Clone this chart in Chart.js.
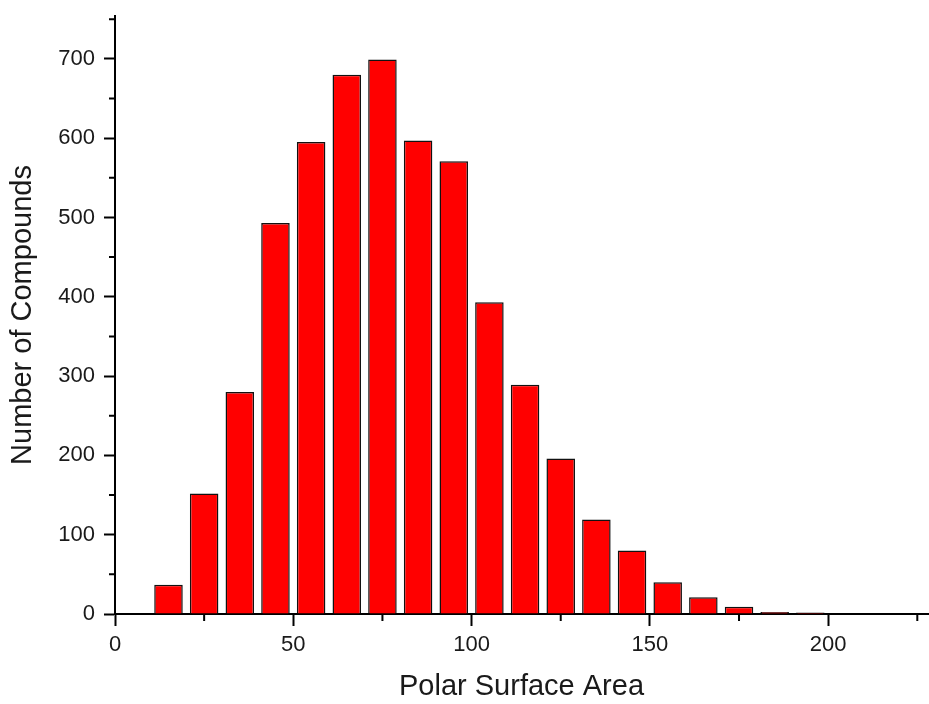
<!DOCTYPE html>
<html>
<head>
<meta charset="utf-8">
<script src="https://cdn.jsdelivr.net/npm/chart.js@4"></script>
<style>
  html, body { margin: 0; padding: 0; background: #fff; }
  #wrap { width: 929px; height: 704px; }
</style>
</head>
<body>
<div id="wrap"><canvas id="chart" width="929" height="704"></canvas></div>
<script>
// Histogram bins (bin centres) and counts
const binCentres = [15, 25, 35, 45, 55, 65, 75, 85, 95, 105, 115, 125, 135, 145, 155, 165, 175, 185, 195];
const counts = [37, 152, 280, 493, 595, 680, 699, 597, 571, 393, 289, 196, 119, 80, 40, 21, 9, 2.5, 2];

const xMinorTicks = [25, 75, 125, 175, 225];
const yMinorTicks = [50, 150, 250, 350, 450, 550, 650, 750];

const textColor = '#1a1a1a';
const fontFamily = '"Liberation Sans", Arial, sans-serif';

// Draw short minor ticks outside the axes
const minorTicks = {
    id: 'minorTicks',
    afterDraw(chart) {
        const ctx = chart.ctx;
        const x = chart.scales.x, y = chart.scales.y;
        ctx.save();
        ctx.strokeStyle = '#000';
        ctx.lineWidth = 2;
        ctx.beginPath();
        xMinorTicks.forEach(v => {
            const px = x.getPixelForValue(v);
            ctx.moveTo(px, y.bottom);
            ctx.lineTo(px, y.bottom + 7);
        });
        yMinorTicks.forEach(v => {
            const py = y.getPixelForValue(v);
            ctx.moveTo(x.left, py);
            ctx.lineTo(x.left - 6, py);
        });
        ctx.stroke();
        ctx.restore();
    }
};

new Chart(document.getElementById('chart').getContext('2d'), {
    type: 'bar',
    data: {
        datasets: [{
            data: binCentres.map((b, i) => ({ x: b, y: counts[i] })),
            backgroundColor: '#ff0000',
            borderColor: '#111',
            borderWidth: 1.5,
            barPercentage: 0.8,
            categoryPercentage: 1.0
        }]
    },
    options: {
        responsive: false,
        animation: false,
        events: [],
        layout: { padding: { top: 16, right: 1, left: 0, bottom: 0 } },
        plugins: { legend: { display: false }, tooltip: { enabled: false } },
        scales: {
            x: {
                type: 'linear',
                min: 0,
                max: 228,
                offset: false,
                border: { color: '#000', width: 2 },
                grid: { offset: false, drawOnChartArea: false, drawTicks: true, tickLength: 12, tickColor: '#000', tickWidth: 2 },
                ticks: {
                    stepSize: 50,
                    includeBounds: false,
                    maxRotation: 0,
                    padding: 6,
                    color: textColor,
                    font: { family: fontFamily, size: 22 }
                },
                title: {
                    display: true,
                    text: 'Polar Surface Area',
                    color: textColor,
                    font: { family: fontFamily, size: 29 },
                    padding: { top: 10, bottom: 0 }
                },
                afterFit(scale) { scale.height = 90; scale.paddingRight = 0; scale.paddingLeft = 0; }
            },
            y: {
                min: 0,
                max: 754,
                border: { color: '#000', width: 2 },
                grid: { drawOnChartArea: false, drawTicks: true, tickLength: 11, tickColor: '#000', tickWidth: 2 },
                ticks: {
                    stepSize: 100,
                    includeBounds: false,
                    padding: 9,
                    color: textColor,
                    font: { family: fontFamily, size: 22 }
                },
                title: {
                    display: true,
                    text: 'Number of Compounds',
                    color: textColor,
                    font: { family: fontFamily, size: 29 },
                    padding: { top: 6, bottom: 8 }
                },
                afterFit(scale) { scale.width = 115; scale.paddingTop = 0; scale.paddingBottom = 0; }
            }
        }
    },
    plugins: [minorTicks]
});
</script>
</body>
</html>
